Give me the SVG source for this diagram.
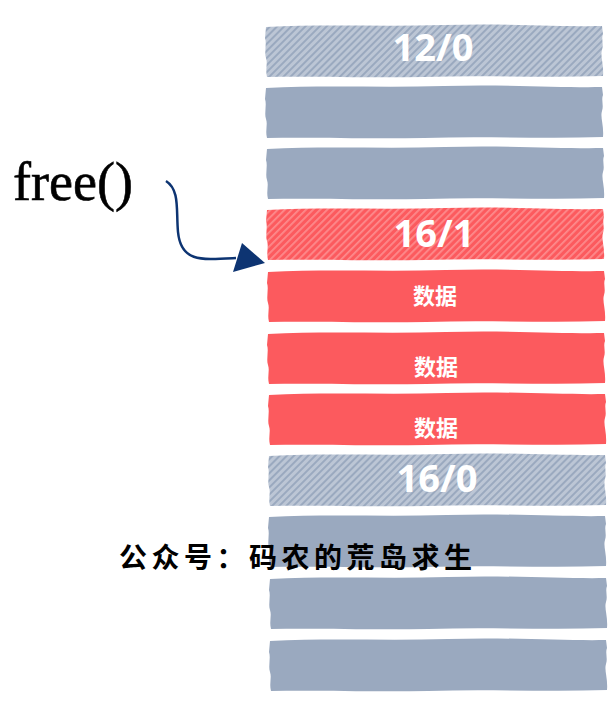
<svg xmlns="http://www.w3.org/2000/svg" xmlns:xlink="http://www.w3.org/1999/xlink" width="615" height="705" viewBox="0 0 615 705">
<style>
.lbl{font-family:"Open Sans","Noto Sans",sans-serif;font-weight:700;fill:#ffffff;text-anchor:middle}
.big{font-size:38px}
.cn{font-family:"Noto Sans CJK SC",sans-serif;font-size:22px;font-weight:700;fill:#ffffff;text-anchor:middle}
.gray{fill:#9aa9bf}
.grayh{fill:url(#hg)}
.red{fill:#fc5a5e}
.redh{fill:url(#hr)}
</style>
<defs>
<pattern id="hg" width="5" height="5" patternUnits="userSpaceOnUse" patternTransform="rotate(45)">
<rect width="5" height="5" fill="#bcc6d5"/>
<rect width="2" height="5" fill="#9aa9bf"/>
</pattern>
<pattern id="hr" width="5" height="5" patternUnits="userSpaceOnUse" patternTransform="rotate(45)">
<rect width="5" height="5" fill="#fc5a5e"/>
<rect width="1.8" height="5" fill="#fd8a8c"/>
</pattern>
<path id="blk" d="M2,3 C60,0 120,3 180,1 C240,-1 300,3 338,2 L339,10 C337,15 340,20 338,26 C336,32 340,40 339,52 C280,54 220,51 160,53 C100,54 50,52 3,53 C1,45 4,40 2,34 C0,28 3,20 1,14 Z"/>
</defs>
<rect width="615" height="705" fill="#ffffff"/>
<g id="row1"><use xlink:href="#blk" class="grayh" transform="translate(264,24)"/><text class="lbl big" x="433" y="61">12/0</text></g>
<g id="row2"><use xlink:href="#blk" class="gray" transform="translate(264,85)"/></g>
<g id="row3"><use xlink:href="#blk" class="gray" transform="translate(265,146)"/></g>
<g id="row4"><use xlink:href="#blk" class="redh" transform="translate(265,207)"/><text class="lbl big" x="434" y="247">16/1</text></g>
<g id="row5"><use xlink:href="#blk" class="red" transform="translate(266,269)"/><text class="cn" x="435" y="304">数据</text></g>
<g id="row6"><use xlink:href="#blk" class="red" transform="translate(266,331)"/><text class="cn" x="436" y="375">数据</text></g>
<g id="row7"><use xlink:href="#blk" class="red" transform="translate(267,392)"/><text class="cn" x="436" y="436">数据</text></g>
<g id="row8"><use xlink:href="#blk" class="grayh" transform="translate(267,453)"/><text class="lbl big" x="437" y="492">16/0</text></g>
<g id="row9"><use xlink:href="#blk" class="gray" transform="translate(267,514)"/></g>
<g id="row10"><use xlink:href="#blk" class="gray" transform="translate(268,576)"/></g>
<g id="row11"><use xlink:href="#blk" class="gray" transform="translate(268,638)"/></g>
<g id="free"><text x="13" y="200" font-family="'Liberation Serif',serif" font-size="54" fill="#000000" stroke="#000000" stroke-width="0.6">free()</text></g>
<g id="connectors">
<path d="M166,181 C180,190 176,210 178,232 C181,262 200,260 236,258" fill="none" stroke="#0d3472" stroke-width="2.5"/>
<path d="M242,243 L265,263 L233,272 Z" fill="#0d3472"/>
</g>
<g id="caption"><text x="119" y="568" font-family="'Noto Sans CJK SC',sans-serif" font-size="28" font-weight="700" letter-spacing="4.5" fill="#000000">公众号：码农的荒岛求生</text></g>
</svg>
